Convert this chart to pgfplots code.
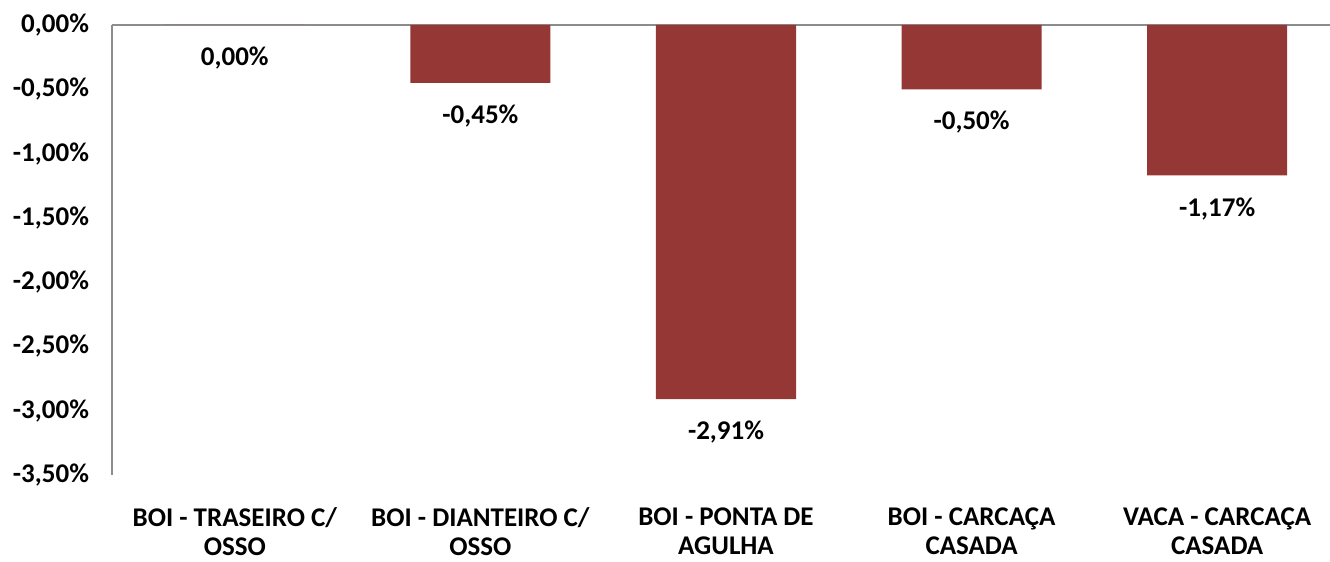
\documentclass[border=0pt]{standalone}
\usepackage{fontspec}
\setmainfont{Carlito}
\usepackage{pgfplots}
\pgfplotsset{compat=1.18}
\definecolor{barred}{HTML}{953735}
\definecolor{axgray}{HTML}{8C8C8C}
\begin{document}
\begin{tikzpicture}
\path[use as bounding box] (-56pt,-43.5pt) rectangle (609pt,237.5pt);
\begin{axis}[
  at={(0pt,0pt)}, anchor=south west,
  scale only axis,
  width=614pt, height=225pt,
  xmin=-0.5, xmax=4.5,
  ymin=-3.5, ymax=0,
  ybar, bar width=70pt,
  separate axis lines,
  axis x line*=bottom,
  x axis line style={draw=none},
  axis y line*=left,
  y axis line style={axgray, line width=1pt},
  major tick length=0pt,
  xtick={0,1,2,3,4},
  xticklabels={{BOI - TRASEIRO C/\\OSSO},{BOI - DIANTEIRO C/\\OSSO},{BOI - PONTA DE\\AGULHA},{BOI - CARCAÇA\\CASADA},{VACA - CARCAÇA\\CASADA}},
  xticklabel style={font=\fontsize{13.5}{14.5}\selectfont\bfseries, align=center, inner sep=1pt, yshift=-15pt},
  ytick={0,-0.5,-1,-1.5,-2,-2.5,-3,-3.5},
  yticklabel={\pgfmathprintnumber[fixed,fixed zerofill,precision=2,use comma,assume math mode=true]{\tick}\%},
  yticklabel style={font=\fontsize{13.5}{15}\selectfont\bfseries, xshift=-8pt},
  extra y ticks={0},
  extra y tick labels={},
  extra y tick style={grid=major, major grid style={axgray, line width=1pt}},
  nodes near coords={\pgfmathprintnumber[fixed,fixed zerofill,precision=2,use comma,assume math mode=true]{\pgfplotspointmeta}\%},
  every node near coord/.append style={font=\fontsize{13.5}{15}\selectfont\bfseries, anchor=north, yshift=-7.5pt},
  clip=false,
]
\addplot[fill=barred, draw=none] coordinates {(0,0) (1,-0.45) (2,-2.91) (3,-0.50) (4,-1.17)};
\end{axis}
\end{tikzpicture}
\end{document}
